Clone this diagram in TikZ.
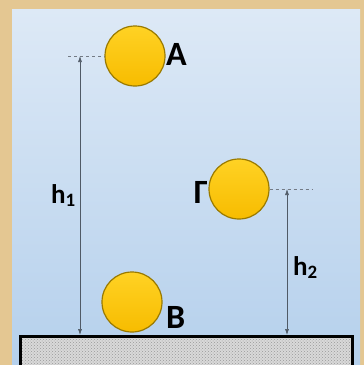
\documentclass[tikz,border=0pt]{standalone}
\usepackage{fontspec}
\setmainfont{Carlito}
\usetikzlibrary{arrows.meta,patterns}
\definecolor{parch}{HTML}{E4C792}
\definecolor{paneltop}{HTML}{DDE9F6}
\definecolor{panelbot}{HTML}{B5D0EC}
\definecolor{balltop}{HTML}{FFD224}
\definecolor{ballmid}{HTML}{FFC80A}
\definecolor{ballbot}{HTML}{F7BC00}
\definecolor{ballrim}{HTML}{9A7A00}
\definecolor{guide}{HTML}{505A66}
\tikzset{
  ball/.style={circle, minimum size=60pt, inner sep=0pt, top color=balltop, middle color=ballmid, bottom color=ballbot, draw=ballrim, line width=1.2pt},
  lbl/.style={font=\fontsize{34}{34}\selectfont\bfseries, text=black, inner sep=0pt},
  hlbl/.style={font=\fontsize{27}{27}\selectfont\bfseries, text=black, inner sep=0pt},
  guideline/.style={draw=guide, line width=0.6pt},
  dim/.style={guideline, {Latex[length=6pt,width=4pt]}-{Latex[length=6pt,width=4pt]}},
  dashguide/.style={draw=guide!80, dashed, line width=0.8pt}
}
\begin{document}
\begin{tikzpicture}[x=1pt,y=-1pt]
\useasboundingbox (0,0) rectangle (364,365);
\fill[parch] (0,0) rectangle (364,365);
\shade[top color=paneltop, bottom color=panelbot] (12,9) rectangle (360,365);
% ground
\fill[gray!30] (19,335) rectangle (351,369);
\node[draw=black, line width=3pt, pattern=crosshatch dots, pattern color=gray!80, minimum width=332pt, minimum height=34pt, inner sep=0pt, anchor=north west] (ground) at (19,335) {};
% balls
\node[ball] (A) at (135,56) {};
\node[ball] (G) at (239,189) {};
\node[ball] (B) at (132,302) {};
% labels
\node[lbl, anchor=base west] (lA) at (166,65) {A};
\node[lbl, anchor=base east] (lG) at (208,203) {Γ};
\node[lbl, anchor=base west] (lB) at (166,328) {B};
% guide points
\coordinate (d1) at (68,56);
\coordinate (t1) at (80,56);
\coordinate (d2) at (313,189);
\coordinate (t2) at (287,189);
\draw[dashguide] (d1) -- (A.west);
\draw[dashguide] (G.east) -- (d2);
\draw[dim] (t1) -- (t1 |- ground.north);
\draw[dim] (t2) -- (t2 |- ground.north);
\node[hlbl, anchor=base east] (h1) at (76,203) {h\textsubscript{1}};
\node[hlbl, anchor=base west] (h2) at (293,275) {h\textsubscript{2}};
\end{tikzpicture}
\end{document}
